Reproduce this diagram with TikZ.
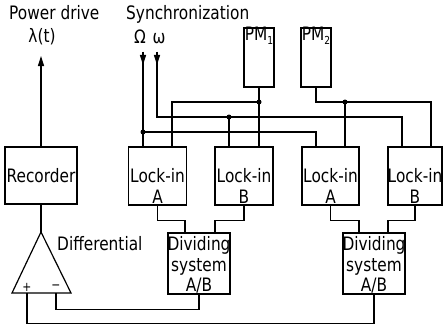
\documentclass[tikz,border=0pt]{standalone}
\usepackage{fontspec}
\setmainfont{DejaVu Sans}[FakeStretch=0.83]
\usetikzlibrary{arrows.meta}
\begin{document}
\begin{tikzpicture}[x=1pt,y=-1pt,
  box/.style={draw, line width=1.6pt, inner sep=0pt},
  wire/.style={line width=1.2pt},
  lbl/.style={inner sep=0pt, align=center, font=\fontsize{18.5}{20.5}\selectfont},
  sgn/.style={inner sep=0pt, font=\fontsize{13}{13}\selectfont},
  dot/.style={circle, fill, inner sep=0pt, minimum size=5pt},
  tip/.style={-{Triangle[length=10pt,width=6pt]}, line width=1.2pt}
]
\useasboundingbox (0,0) rectangle (444,329);

% boxes
\node[box, minimum width=72pt, minimum height=57pt] (rec) at (41,175.5) {};
\node[box, minimum width=58pt, minimum height=58pt] (la1) at (157.5,176) {};
\node[box, minimum width=58pt, minimum height=58pt] (lb1) at (244,176) {};
\node[box, minimum width=57pt, minimum height=58pt] (la2) at (330.5,176) {};
\node[box, minimum width=54pt, minimum height=58pt] (lb2) at (415,176) {};
\node[box, minimum width=30pt, minimum height=59pt] (pm1) at (259,57.5) {};
\node[box, minimum width=30pt, minimum height=59pt] (pm2) at (316,57.5) {};
\node[box, minimum width=62pt, minimum height=61pt] (div1) at (199,263.5) {};
\node[box, minimum width=62pt, minimum height=61pt] (div2) at (374,263.5) {};

% box texts
\node[lbl] (rect) at (41,176) {Recorder};
\node[lbl] (la1t) at (157.5,186) {Lock-in\\A};
\node[lbl] (lb1t) at (244,186) {Lock-in\\B};
\node[lbl] (la2t) at (330.5,186) {Lock-in\\A};
\node[lbl] (lb2t) at (415,186) {Lock-in\\B};
\node[lbl] (div1t) at (199,265) {Dividing\\system\\A/B};
\node[lbl] (div2t) at (374,265) {Dividing\\system\\A/B};
\node[lbl, anchor=north] (pm1t) at (259,27) {PM\raisebox{-4pt}{\fontsize{11}{11}\selectfont 1}};
\node[lbl, anchor=north] (pm2t) at (316,27) {PM\raisebox{-4pt}{\fontsize{11}{11}\selectfont 2}};

% top labels
\node[lbl, anchor=base west] (pd) at (9,19.5) {Power drive};
\node[lbl, anchor=base west] (sy) at (126,19.5) {Synchronization};
\node[lbl, anchor=base] (lamt) at (42,43) {λ(t)};
\node[lbl, anchor=base] (omt) at (140,44) {Ω};
\node[lbl, anchor=base] (omgt) at (159,44) {ω};
\node[lbl, anchor=base west] (dft) at (57,250) {Differential};

% differential amplifier
\coordinate (apex) at (41,232);
\coordinate (bl) at (12,293);
\coordinate (br) at (71,293);
\draw[wire] (apex) -- (bl) -- (br) -- cycle;
\coordinate (inP) at (27,293);
\coordinate (inM) at (56,293);
\node[sgn] (plus) at (27,287) {+};
\node[sgn] (minus) at (56,287) {−};

% power drive output
\coordinate (lam) at (41,56);
\draw[tip] (rec.north) -- (lam);
\draw[wire] (rec.south) -- (apex);

% synchronization inputs
\coordinate (om) at (143,52);
\coordinate (omg) at (157,52);
\draw[tip] (om) -- ++(0,13);
\draw[tip] (omg) -- ++(0,13);

% junctions and corners
\coordinate (jO) at (143,132);
\coordinate (cO) at (316,132);
\coordinate (jW) at (229,117);
\coordinate (cW) at (402,117);
\coordinate (jP1) at (259,102);
\coordinate (cP1) at (172,102);
\coordinate (jP2) at (345,102);
\coordinate (cP2) at (431,102);

\draw[wire] (om) -- (om |- la1.north);
\draw[wire] (jO) -- (cO) -- (cO |- la2.north);
\draw[wire] (omg) |- (cW) -- (cW |- lb2.north);
\draw[wire] (jW) -- (jW |- lb1.north);
\draw[wire] (pm1.south) -- (pm1.south |- lb1.north);
\draw[wire] (jP1) -- (cP1) -- (cP1 |- la1.north);
\draw[wire] (pm2.south) |- (cP2) -- (cP2 |- lb2.north);
\draw[wire] (jP2) -- (jP2 |- la2.north);

\node[dot] (dO) at (jO) {};
\node[dot] (dW) at (jW) {};
\node[dot] (dP1) at (jP1) {};
\node[dot] (dP2) at (jP2) {};

% lock-in to dividing systems
\draw[wire] (la1.south) -- ++(0,15) -| ([xshift=-14pt]div1.north);
\draw[wire] (lb1.south) -- ++(0,15) -| ([xshift=16pt]div1.north);
\draw[wire] (la2.south) -- ++(0,15) -| ([xshift=-15pt]div2.north);
\draw[wire] (lb2.south) -- ++(0,15) -| ([xshift=14pt]div2.north);

% dividing systems to differential
\draw[wire] (div1.south) -- ++(0,15) -| (inM);
\draw[wire] (div2.south) -- ++(0,29) -| (inP);
\end{tikzpicture}
\end{document}
